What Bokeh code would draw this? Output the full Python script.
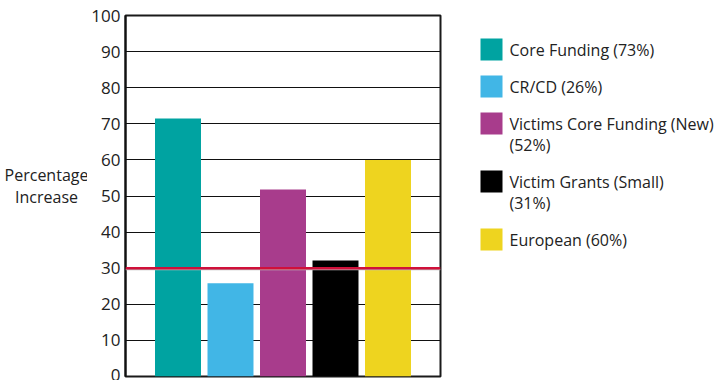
from bokeh.plotting import figure
from bokeh.models import Span, FixedTicker, Range1d
from bokeh.layouts import row
from bokeh.core.properties import value
from bokeh.embed import file_html
from bokeh.resources import INLINE

legend_labels = [["Core Funding (73%)"], ["CR/CD (26%)"], ["Victims Core Funding (New)", "(52%)"],
                 ["Victim Grants (Small)", "(31%)"], ["European (60%)"]]
values = [71.5, 25.8, 51.8, 32.1, 60.0]
colors = ["#00A3A1", "#41B6E6", "#A83C8C", "#000000", "#EED41F"]
target = 30
yticks = [0, 10, 20, 30, 40, 50, 60, 70, 80, 90, 100]
ylabel_lines = ["Percentage", "Increase"]

H = 380
TOP = 15
BOTTOM = 4
FONT = "Open Sans"
TXT = "#222222"
YMAX = 100
PPU = (H - TOP - BOTTOM) / YMAX
AXIS_W = 38
LW = 125 - AXIS_W
MAIN_W = AXIS_W + 315 + 2


def px2val(py):
    return YMAX - (py - TOP) / PPU


def side_figure(w):
    f = figure(width=w, height=H, x_range=Range1d(0, w), y_range=Range1d(0, YMAX), title=None,
               output_backend="svg", toolbar_location=None,
               min_border_left=0, min_border_right=0, min_border_top=TOP, min_border_bottom=BOTTOM)
    f.axis.visible = False
    f.grid.visible = False
    f.outline_line_color = None
    return f


# ---- left: y axis title ----
left = side_figure(LW)
left.text(x=[LW / 2 + 2.5] * 2, y=[px2val(174), px2val(196)], text=ylabel_lines, text_align="center",
          text_baseline="middle", text_font=value(FONT), text_font_size="16px", text_color=TXT)

# ---- main chart ----
positions = list(range(1, len(values) + 1))
p = figure(width=MAIN_W, height=H, x_range=(0, len(values) + 1), y_range=(0, YMAX), title=None,
           output_backend="svg", toolbar_location=None,
           min_border_left=AXIS_W, min_border_right=2, min_border_top=TOP, min_border_bottom=BOTTOM)
p.xaxis.visible = False
p.xgrid.visible = False
p.yaxis.ticker = FixedTicker(ticks=yticks)
p.yaxis.major_tick_out = 0
p.yaxis.major_tick_in = 0
p.yaxis.minor_tick_out = 0
p.yaxis.minor_tick_in = 0
p.yaxis.axis_line_width = 2
p.yaxis.axis_line_color = "#111111"
p.yaxis.major_label_text_font = FONT
p.yaxis.major_label_text_font_size = "17px"
p.yaxis.major_label_text_color = TXT
p.yaxis.major_label_standoff = 5
p.ygrid.grid_line_color = "#111111"
p.ygrid.grid_line_width = 1.2
p.outline_line_color = "#1a1a1a"
p.outline_line_width = 2

p.vbar(x=positions, top=values, width=0.876, bottom=0, fill_color=colors, line_color=None)

p.add_layout(Span(location=target - 0.35, dimension="width", line_color="#bbbbbb", line_width=1.5))
p.add_layout(Span(location=target, dimension="width", line_color="#D0103A", line_width=2.5))

# ---- right: legend ----
RW = 719 - LW - MAIN_W
leg = side_figure(RW)
box = 22
gap = 15
line_h = 21
x0 = 38
y = 38
sq_x, sq_y, tx, ty, tt = [], [], [], [], []
for lines in legend_labels:
    sq_x.append(x0 + box / 2)
    sq_y.append(px2val(y + box / 2))
    for k, t in enumerate(lines):
        tx.append(x0 + box + 7)
        ty.append(px2val(y + box / 2 + k * line_h))
        tt.append(t)
    item_h = max(box, box / 2 + (len(lines) - 1) * line_h + 11)
    y += item_h + gap
leg.rect(x=sq_x, y=sq_y, width=box, height=box / PPU, fill_color=colors, line_color=None)
leg.text(x=tx, y=ty, text=tt, text_align="left", text_baseline="middle",
         text_font=value(FONT), text_font_size="16px", text_color=TXT)

layout = row(left, p, leg, spacing=0)
open("out.html", "w").write(file_html(layout, INLINE))
